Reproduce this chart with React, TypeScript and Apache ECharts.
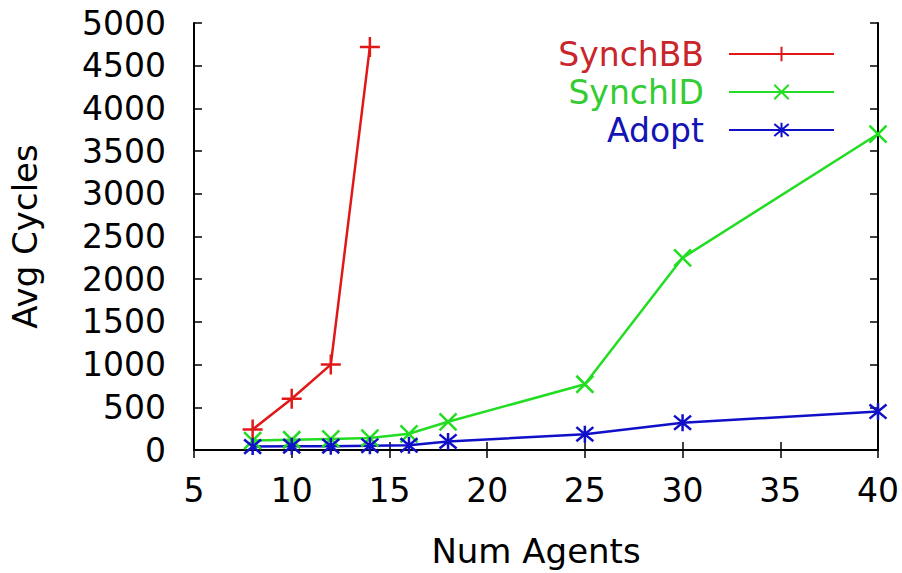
import React, { useEffect, useRef } from "react";
import * as echarts from "echarts";

const agents = [8, 10, 12, 14, 16, 18, 25, 30, 40];
const synchBBAgents = [8, 10, 12, 14];
const synchBB = [240, 600, 1000, 4720];
const synchID = [110, 120, 130, 140, 190, 330, 770, 2250, 3700];
const adopt = [40, 45, 45, 50, 55, 100, 185, 320, 450];
const xTicks = [5, 10, 15, 20, 25, 30, 35, 40];
const yTicks = [0, 500, 1000, 1500, 2000, 2500, 3000, 3500, 4000, 4500, 5000];

const FONT = "DejaVu Sans";
const PLUS = "path://M0,5 L10,5 M5,0 L5,10";
const CROSS = "path://M0,0 L10,10 M0,10 L10,0";
const STAR = "path://M0,0 L10,10 M0,10 L10,0 M5,-1 L5,11";

export default function App() {
  const ref = useRef<HTMLDivElement>(null);
  useEffect(() => {
    if (!ref.current) return;
    const chart = echarts.init(ref.current, undefined, { renderer: "svg" });
    const pair = (xs: number[], ys: number[]) => xs.map((x, i) => [x, ys[i]]);
    const axisLine = { show: true, lineStyle: { color: "#000", width: 2 } };
    const tick = { show: true, inside: true, length: 8, lineStyle: { color: "#000", width: 1.5 } };
    const mk = (name: string, color: string, textColor: string, symbol: string, size: number, data: number[][]) => ({
      name,
      type: "line",
      data,
      symbol,
      symbolSize: size,
      showSymbol: true,
      lineStyle: { color, width: 2.5 },
      itemStyle: { color, borderColor: color, borderWidth: 2.5 },
      emphasis: { disabled: true },
      z: 3,
      _tc: textColor,
    });
    const series = [
      mk("SynchBB", "#e01818", "#c8262a", PLUS, 20, pair(synchBBAgents, synchBB)),
      mk("SynchID", "#22dd22", "#33cc33", CROSS, 17, pair(agents, synchID)),
      mk("Adopt", "#1010c8", "#1414b4", STAR, 17, pair(agents, adopt)),
    ];
    chart.setOption({
      animation: false,
      backgroundColor: "#fff",
      grid: { left: 194, top: 23, right: 20, bottom: 119, containLabel: false },
      legend: {
        orient: "vertical",
        right: 62,
        top: 31,
        align: "right",
        itemWidth: 105,
        itemHeight: 18,
        itemGap: 2,
        selectedMode: false,
        data: series.map((s) => ({
          name: s.name,
          textStyle: { color: s._tc, fontFamily: FONT, fontSize: 33, padding: [0, 20, 0, 0], lineHeight: 36 },
        })),
      },
      xAxis: [
        {
          type: "value",
          min: 5,
          max: 40,
          interval: 5,
          name: "Num Agents",
          nameLocation: "middle",
          nameGap: 84,
          nameTextStyle: { fontFamily: FONT, fontSize: 34, color: "#000" },
          axisLine,
          axisTick: tick,
          splitLine: { show: false },
          axisLabel: { fontFamily: FONT, fontSize: 33, color: "#000", margin: 24, formatter: (v: number) => (xTicks.includes(v) ? String(v) : "") },
        },
        {
          type: "value",
          position: "top",
          min: 5,
          max: 40,
          interval: 5,
          axisLine,
          axisTick: tick,
          splitLine: { show: false },
          axisLabel: { show: false },
        },
      ],
      yAxis: [
        {
          type: "value",
          min: 0,
          max: 5000,
          interval: 500,
          name: "Avg Cycles",
          nameLocation: "middle",
          nameGap: 152,
          nameTextStyle: { fontFamily: FONT, fontSize: 34, color: "#000" },
          axisLine,
          axisTick: tick,
          splitLine: { show: false },
          axisLabel: { fontFamily: FONT, fontSize: 33, color: "#000", margin: 28, formatter: (v: number) => (yTicks.includes(v) ? String(v) : "") },
        },
        {
          type: "value",
          position: "right",
          min: 0,
          max: 5000,
          interval: 500,
          axisLine,
          axisTick: tick,
          splitLine: { show: false },
          axisLabel: { show: false },
        },
      ],
      series: series.map(({ _tc, ...s }) => s),
    });
    return () => chart.dispose();
  }, []);
  return <div ref={ref} style={{ width: 902, height: 573, position: "absolute", left: 0, top: 0 }} />;
}
